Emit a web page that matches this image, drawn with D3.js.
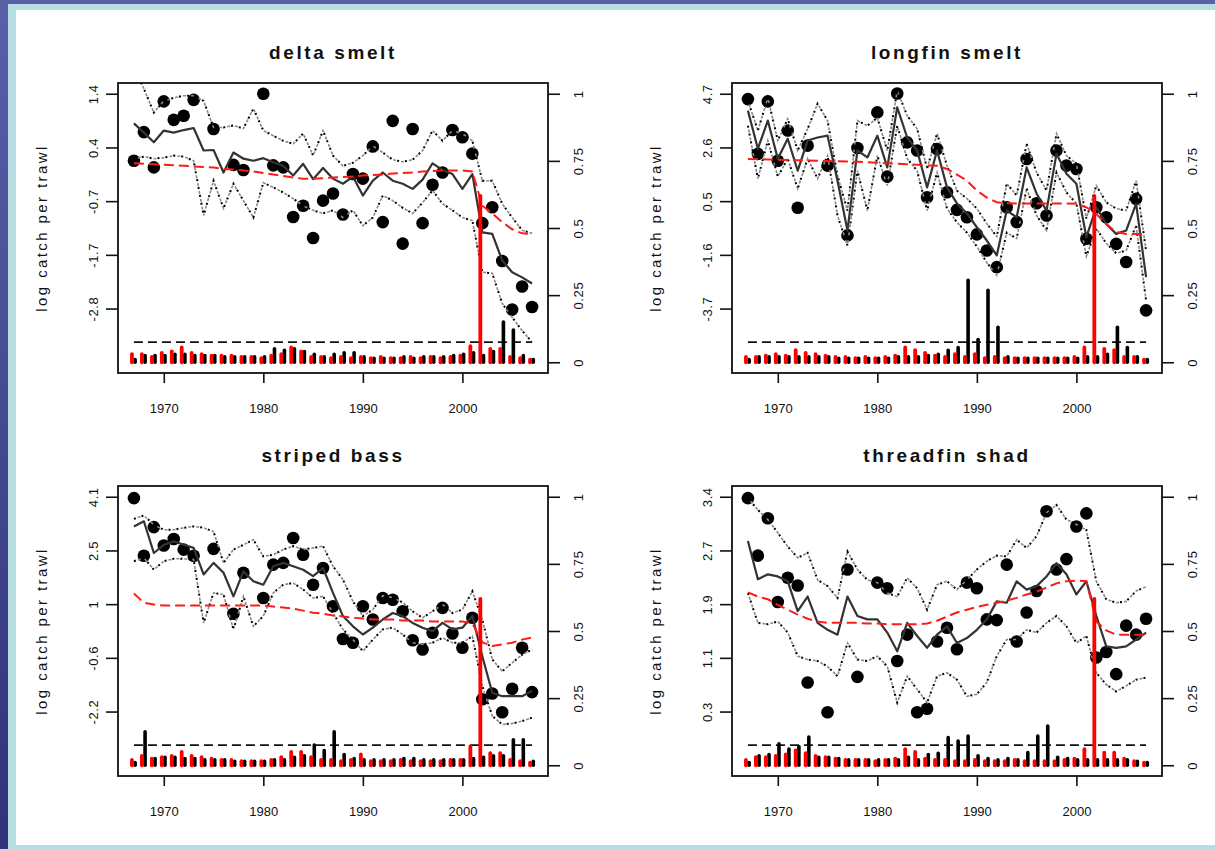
<!DOCTYPE html>
<html>
<head>
<meta charset="utf-8">
<script src="https://cdn.jsdelivr.net/npm/d3@7"></script>
<style>
  body { margin: 0; background: #4b4f9c; }
  svg text { font-family: "Liberation Sans", Arial, sans-serif; fill: #111; }
</style>
</head>
<body>
<svg id="chart" width="1215" height="849"></svg>
<script>
const years = d3.range(1967, 2008);
const threshold = 0.075;

// delta smelt
const deltaTicks = ["-2.8", "-1.7", "-0.7", "0.4", "1.4"];
const deltaObs = [0.09, 0.65, -0.04, 1.25, 0.89, 0.97, 1.28, null, 0.71, null,
  0.01, -0.09, null, 1.4, 0.0, -0.04, -1.01, -0.79, -1.42, -0.69,
  -0.55, -0.96, -0.17, -0.26, 0.37, -1.11, 0.87, -1.53, 0.71, -1.13,
  -0.38, -0.14, 0.69, 0.55, 0.23, -1.13, -0.82, -1.87, -2.82, -2.37, -2.77];
const deltaFit = [0.82, 0.64, 0.45, 0.68, 0.64, 0.69, 0.73, 0.29, 0.30, -0.14,
  0.25, 0.13, 0.09, 0.14, 0.06, -0.01, -0.20, 0.03, -0.27, -0.05,
  -0.26, -0.36, -0.22, -0.59, -0.30, -0.14, -0.30, -0.36, -0.46, -0.28,
  0.04, -0.09, -0.17, -0.46, -0.17, -1.31, -1.34, -1.86, -2.09, -2.19, -2.31];
const deltaHi = [1.9, 1.50, 1.03, 1.26, 1.32, 1.36, 1.36, 1.26, 0.74, 0.74,
  0.78, 0.72, 1.11, 0.68, 0.58, 0.48, 0.42, 0.62, 0.19, 0.68,
  0.19, -0.01, 0.05, 0.19, 0.38, 0.25, 0.11, 0.07, 0.11, 0.29,
  0.68, 0.48, 0.68, 0.62, 0.48, -0.30, -0.30, -0.75, -1.02, -1.27, -1.33];
const deltaLo = [0.13, 0.17, 0.13, 0.15, 0.19, 0.17, 0.09, -0.98, -0.30, -0.84,
  -0.36, -0.69, -1.02, -0.34, -0.43, -0.53, -0.65, -0.79, -0.88, -0.94,
  -0.88, -1.02, -0.88, -1.18, -1.02, -0.59, -0.69, -0.83, -0.94, -0.73,
  -0.49, -0.75, -0.88, -1.02, -1.08, -2.09, -2.11, -2.70, -2.97, -3.23, -3.46];
const deltaTrend = [0.04, 0.03, 0.02, 0.01, 0.0, -0.01, -0.02, -0.03, -0.04, -0.07,
  -0.08, -0.10, -0.12, -0.15, -0.18, -0.21, -0.24, -0.26, -0.26, -0.25,
  -0.24, -0.23, -0.22, -0.20, -0.19, -0.18, -0.16, -0.15, -0.14, -0.12,
  -0.11, -0.10, -0.10, -0.10, -0.12, -0.79, -0.94, -1.11, -1.25, -1.33, -1.34];
const deltaBlack = [0.01, 0.025, 0.025, 0.025, 0.03, 0.03, 0.025, 0.025, 0.025, 0.02,
  0.02, 0.02, 0.02, 0.02, 0.05, 0.045, 0.05, 0.04, 0.03, 0.02,
  0.03, 0.035, 0.035, 0.02, 0.015, 0.015, 0.015, 0.02, 0.015, 0.02,
  0.02, 0.02, 0.025, 0.03, 0.035, 0.025, 0.04, 0.15, 0.12, 0.025, 0.01];
const deltaRed = [0.03, 0.03, 0.02, 0.035, 0.04, 0.055, 0.035, 0.03, 0.025, 0.025,
  0.025, 0.02, 0.02, 0.015, 0.025, 0.03, 0.055, 0.04, 0.02, 0.02,
  0.015, 0.02, 0.015, 0.02, 0.015, 0.02, 0.015, 0.015, 0.02, 0.015,
  0.02, 0.015, 0.02, 0.025, 0.06, 0.62, 0.05, 0.05, 0.02, 0.015, 0.01];

// longfin smelt
const longfinTicks = ["-3.7", "-1.6", "0.5", "2.6", "4.7"];
const longfinObs = [4.49, 2.35, 4.40, 2.08, 3.26, 0.24, 2.67, null, 1.89, null,
  -0.84, 2.58, null, 3.97, 1.46, 4.71, 2.80, 2.48, 0.65, 2.54,
  0.85, 0.16, -0.13, -0.80, -1.43, -2.08, 0.26, -0.32, 2.15, 0.42,
  -0.06, 2.48, 1.89, 1.76, -0.97, 0.26, -0.13, -1.17, -1.88, 0.59, -3.77];
const longfinFit = [4.04, 2.55, 3.65, 2.16, 2.94, 1.69, 2.87, 2.99, 3.06, 1.30,
  -0.65, 2.48, 2.21, 3.06, 1.82, 4.17, 2.99, 2.48, 1.04, 2.48,
  1.04, 0.41, 0.02, -0.52, -1.04, -1.62, 0.13, -0.13, 1.82, 0.79,
  0.13, 2.35, 1.57, 1.18, -0.91, 0.26, -0.39, -0.78, -0.65, 0.40, -2.47];
const longfinHi = [4.43, 3.26, 4.54, 2.87, 3.72, 2.48, 3.33, 4.31, 3.65, 1.50,
  0.13, 3.65, 3.45, 3.76, 2.48, 4.82, 3.84, 3.33, 1.77, 3.14,
  1.89, 0.91, 0.60, 0.21, -0.38, -0.88, 1.19, 0.72, 2.75, 1.62,
  0.91, 3.14, 2.28, 1.97, -0.18, 1.11, 0.45, 0.21, 0.13, 1.30, -1.43];
const longfinLo = [3.45, 1.38, 2.87, 1.46, 2.16, 0.99, 2.16, 1.38, 2.28, -0.06,
  -1.23, 1.69, 0.13, 2.28, 1.11, 3.45, 2.16, 1.69, 0.13, 1.62,
  0.21, -0.33, -0.73, -1.28, -1.90, -2.40, -0.73, -0.96, 0.99, -0.06,
  -0.65, 1.62, 0.84, 0.41, -1.66, -0.57, -1.15, -1.54, -1.43, -0.45, -3.38];
const longfinTrend = [2.15, 2.14, 2.13, 2.12, 2.11, 2.10, 2.09, 2.08, 2.07, 2.06,
  2.05, 2.04, 2.02, 2.00, 1.98, 1.96, 1.94, 1.92, 1.90, 1.88,
  1.76, 1.54, 1.30, 0.91, 0.64, 0.46, 0.42, 0.41, 0.41, 0.41,
  0.41, 0.41, 0.41, 0.40, 0.26, 0.0, -0.39, -0.71, -0.78, -0.78, -0.78];
const longfinBlack = [0.01, 0.02, 0.02, 0.02, 0.02, 0.02, 0.02, 0.02, 0.02, 0.015,
  0.015, 0.015, 0.015, 0.015, 0.015, 0.02, 0.02, 0.02, 0.025, 0.03,
  0.045, 0.055, 0.305, 0.085, 0.268, 0.13, 0.02, 0.015, 0.015, 0.015,
  0.015, 0.015, 0.015, 0.015, 0.02, 0.02, 0.03, 0.13, 0.055, 0.02, 0.01];
const longfinRed = [0.02, 0.02, 0.025, 0.03, 0.025, 0.045, 0.035, 0.03, 0.025, 0.02,
  0.02, 0.015, 0.02, 0.015, 0.02, 0.025, 0.055, 0.045, 0.035, 0.025,
  0.02, 0.03, 0.02, 0.03, 0.015, 0.02, 0.015, 0.015, 0.015, 0.015,
  0.015, 0.015, 0.015, 0.02, 0.055, 0.62, 0.05, 0.045, 0.02, 0.02, 0.01];

// striped bass
const stripedTicks = ["-2.2", "-0.6", "1", "2.5", "4.1"];
const stripedObs = [4.06, 2.37, 3.21, 2.67, 2.86, 2.55, 2.37, null, 2.57, null,
  0.67, 1.87, null, 1.13, 2.11, 2.16, 2.89, 2.40, 1.52, 2.01,
  0.89, -0.07, -0.18, 0.89, 0.50, 1.13, 1.08, 0.74, -0.11, -0.38,
  0.11, 0.84, 0.09, -0.33, 0.55, -1.84, -1.67, -2.22, -1.53, -0.33, -1.63];
const stripedFit = [3.23, 3.38, 2.45, 2.69, 2.79, 2.69, 2.60, 1.82, 2.16, 1.87,
  1.18, 1.91, 1.62, 1.52, 2.06, 2.16, 2.06, 1.96, 1.77, 2.01,
  1.28, 0.60, 0.30, 0.06, 0.26, 0.50, 0.69, 0.60, 0.40, 0.26,
  0.16, 0.40, 0.21, 0.26, 0.60, -0.58, -1.65, -1.75, -1.75, -1.75, -1.60];
const stripedHi = [3.45, 3.55, 3.28, 3.13, 3.13, 3.19, 3.23, 3.19, 3.08, 2.16,
  2.55, 2.69, 2.84, 2.35, 2.40, 2.55, 2.65, 2.55, 2.60, 2.65,
  2.06, 1.67, 1.03, 0.60, 0.79, 1.20, 1.14, 1.00, 0.74, 0.55,
  0.74, 0.94, 0.69, 0.79, 1.33, 0.50, -0.67, -1.02, -0.77, -0.53, -0.38];
const stripedLo = [2.21, 2.31, 1.96, 2.21, 2.28, 2.28, 2.26, 0.40, 1.28, 1.23,
  0.21, 1.18, 0.30, 0.60, 1.28, 1.52, 1.57, 1.38, 1.13, 1.18,
  0.69, 0.21, -0.09, -0.43, -0.09, 0.21, 0.26, 0.06, -0.18, -0.23,
  -0.18, -0.04, -0.18, -0.18, 0.01, -1.45, -2.33, -2.58, -2.55, -2.48, -2.38];
const stripedTrend = [1.26, 0.99, 0.94, 0.91, 0.91, 0.91, 0.91, 0.91, 0.91, 0.91,
  0.91, 0.91, 0.91, 0.91, 0.88, 0.85, 0.82, 0.76, 0.70, 0.67,
  0.62, 0.59, 0.55, 0.53, 0.50, 0.50, 0.50, 0.47, 0.47, 0.47,
  0.44, 0.44, 0.44, 0.44, 0.38, -0.17, -0.28, -0.23, -0.18, -0.09, -0.03];
const stripedBlack = [0.01, 0.125, 0.025, 0.03, 0.03, 0.025, 0.025, 0.02, 0.02, 0.02,
  0.015, 0.015, 0.015, 0.015, 0.02, 0.02, 0.03, 0.035, 0.075, 0.055,
  0.125, 0.04, 0.025, 0.02, 0.02, 0.02, 0.02, 0.025, 0.025, 0.02,
  0.02, 0.02, 0.02, 0.02, 0.025, 0.03, 0.035, 0.035, 0.095, 0.095, 0.015];
const stripedRed = [0.02, 0.035, 0.025, 0.03, 0.035, 0.05, 0.035, 0.03, 0.025, 0.02,
  0.02, 0.015, 0.015, 0.015, 0.02, 0.03, 0.05, 0.05, 0.03, 0.02,
  0.02, 0.015, 0.02, 0.04, 0.015, 0.015, 0.015, 0.02, 0.015, 0.015,
  0.015, 0.015, 0.02, 0.02, 0.07, 0.62, 0.045, 0.045, 0.02, 0.015, 0.01];

// threadfin shad
const threadfinTicks = ["0.3", "1.1", "1.9", "2.7", "3.4"];
const threadfinObs = [3.38, 2.55, 3.09, 1.88, 2.23, 2.12, 0.72, null, 0.29, null,
  2.35, 0.80, null, 2.16, 2.08, 1.03, 1.41, 0.29, 0.34, 1.31,
  1.51, 1.20, 2.16, 2.08, 1.63, 1.62, 2.42, 1.31, 1.73, 2.04,
  3.19, 2.35, 2.50, 2.97, 3.16, 1.08, 1.16, 0.84, 1.54, 1.41, 1.64];
const threadfinFit = [2.76, 2.21, 2.28, 2.25, 2.18, 1.75, 1.96, 1.58, 1.48, 1.41,
  1.96, 1.68, 1.63, 1.63, 1.44, 1.17, 1.58, 1.39, 1.22, 1.41,
  1.53, 1.29, 1.36, 1.48, 1.63, 1.89, 1.87, 2.18, 2.06, 2.11,
  2.25, 2.44, 2.28, 1.99, 2.18, 1.68, 1.24, 1.22, 1.24, 1.34, 1.44];
const threadfinHi = [3.38, 3.21, 3.07, 2.88, 2.68, 2.52, 2.59, 2.20, 2.11, 1.94,
  2.61, 2.35, 2.20, 2.16, 2.01, 1.96, 2.23, 2.08, 1.77, 2.13,
  2.18, 2.06, 2.20, 2.35, 2.47, 2.55, 2.54, 2.78, 2.66, 2.83,
  3.17, 3.28, 3.07, 3.00, 2.92, 2.18, 1.92, 1.87, 1.89, 2.04, 2.10];
const threadfinLo = [2.01, 1.58, 1.56, 1.60, 1.44, 1.10, 1.05, 1.03, 0.95, 0.81,
  1.29, 1.05, 1.03, 1.10, 0.95, 0.43, 0.81, 0.62, 0.43, 0.81,
  0.86, 0.76, 0.52, 0.55, 0.72, 1.10, 1.34, 1.34, 1.48, 1.44,
  1.58, 1.68, 1.53, 1.29, 1.39, 0.86, 0.69, 0.59, 0.67, 0.76, 0.79];
const threadfinTrend = [2.02, 1.96, 1.92, 1.84, 1.77, 1.70, 1.64, 1.60, 1.58, 1.58,
  1.58, 1.58, 1.57, 1.57, 1.56, 1.56, 1.56, 1.56, 1.57, 1.61,
  1.67, 1.73, 1.77, 1.81, 1.84, 1.87, 1.90, 1.94, 1.99, 2.03,
  2.09, 2.15, 2.18, 2.19, 2.18, 1.60, 1.47, 1.41, 1.41, 1.41, 1.41];
const threadfinBlack = [0.01, 0.035, 0.04, 0.08, 0.06, 0.07, 0.105, 0.03, 0.03, 0.025,
  0.02, 0.02, 0.02, 0.02, 0.02, 0.02, 0.03, 0.02, 0.04, 0.045,
  0.103, 0.09, 0.109, 0.035, 0.025, 0.02, 0.025, 0.02, 0.047, 0.109,
  0.146, 0.03, 0.025, 0.02, 0.02, 0.02, 0.02, 0.02, 0.02, 0.015, 0.01];
const threadfinRed = [0.02, 0.03, 0.03, 0.035, 0.04, 0.055, 0.045, 0.035, 0.03, 0.025,
  0.02, 0.02, 0.02, 0.015, 0.02, 0.025, 0.06, 0.05, 0.025, 0.02,
  0.02, 0.015, 0.015, 0.02, 0.015, 0.015, 0.015, 0.02, 0.015, 0.015,
  0.015, 0.015, 0.02, 0.025, 0.06, 0.62, 0.047, 0.047, 0.025, 0.015, 0.01];

const xTicks = [1970, 1980, 1990, 2000];
const probTicks = [0, 0.25, 0.5, 0.75, 1];
const probLabels = ["0", "0.25", "0.5", "0.75", "1"];

const panels = [
  { title: "delta smelt", ticks: deltaTicks, obs: deltaObs, fit: deltaFit, hi: deltaHi, lo: deltaLo,
    trend: deltaTrend, black: deltaBlack, red: deltaRed, left: 118, top: 83 },
  { title: "longfin smelt", ticks: longfinTicks, obs: longfinObs, fit: longfinFit, hi: longfinHi, lo: longfinLo,
    trend: longfinTrend, black: longfinBlack, red: longfinRed, left: 732, top: 83 },
  { title: "striped bass", ticks: stripedTicks, obs: stripedObs, fit: stripedFit, hi: stripedHi, lo: stripedLo,
    trend: stripedTrend, black: stripedBlack, red: stripedRed, left: 118, top: 486 },
  { title: "threadfin shad", ticks: threadfinTicks, obs: threadfinObs, fit: threadfinFit, hi: threadfinHi, lo: threadfinLo,
    trend: threadfinTrend, black: threadfinBlack, red: threadfinRed, left: 732, top: 486 }
];
const W = 430, H = 290;

const svg = d3.select('#chart');
const defs = svg.append('defs');

// slide background: blue frame, cyan border, white page
const grad = defs.append('linearGradient').attr('id', 'bg').attr('x1', 0).attr('y1', 0).attr('x2', 0).attr('y2', 1);
grad.append('stop').attr('offset', 0).attr('stop-color', '#5a60a8');
grad.append('stop').attr('offset', 1).attr('stop-color', '#2f3478');
svg.append('rect').attr('width', 1215).attr('height', 849).attr('fill', 'url(#bg)');
svg.append('rect').attr('x', 8).attr('y', 4).attr('width', 1207).attr('height', 845).attr('fill', '#b6dde2');
svg.append('rect').attr('x', 16).attr('y', 10).attr('width', 1199).attr('height', 835).attr('fill', '#ffffff');

panels.forEach((p, idx) => {
    const right = p.left + W, bottom = p.top + H;
    const x = d3.scaleLinear().domain([1965.4, 2008.6]).range([p.left, right]);
    const prob = d3.scaleLinear().domain([-0.04, 1.04]).range([bottom, p.top]);
    const lo = +p.ticks[0], hi = +p.ticks[4];
    const y = d3.scaleLinear().domain([lo, hi]).range([prob(0.2), prob(1)]);
    const tickVals = d3.range(5).map(i => lo + i * (hi - lo) / 4);

    const g = svg.append('g');
    defs.append('clipPath').attr('id', 'clip' + idx)
        .append('rect').attr('x', p.left).attr('y', p.top).attr('width', W).attr('height', H);
    const plot = g.append('g').attr('clip-path', `url(#clip${idx})`);

    // observed catches
    plot.selectAll('circle')
        .data(years.map((yr, i) => ({ yr, v: p.obs[i] })).filter(d => d.v !== null))
        .join('circle')
        .attr('cx', d => x(d.yr))
        .attr('cy', d => y(d.v))
        .attr('r', 6.3)
        .attr('fill', '#000');

    const line = d3.line().x((d, i) => x(years[i])).y(d => y(d));

    // credible interval
    [p.hi, p.lo].forEach(arr => {
        plot.append('path').attr('d', line(arr))
            .attr('fill', 'none').attr('stroke', '#8a8a8a').attr('stroke-width', 1.6)
            .attr('stroke-dasharray', '3,5').attr('stroke-dashoffset', 4);
        plot.append('path').attr('d', line(arr))
            .attr('fill', 'none').attr('stroke', '#000').attr('stroke-width', 2)
            .attr('stroke-dasharray', '2,6');
    });

    // fitted level
    plot.append('path').attr('d', line(p.fit))
        .attr('fill', 'none').attr('stroke', '#333').attr('stroke-width', 2.2)
        .attr('stroke-linejoin', 'round');

    // long-term trend
    plot.append('path').attr('d', line(p.trend))
        .attr('fill', 'none').attr('stroke', '#ff1a1a').attr('stroke-width', 2)
        .attr('stroke-dasharray', '10,5');

    // change point probabilities
    plot.append('line')
        .attr('x1', x(1967)).attr('x2', x(2007))
        .attr('y1', prob(threshold)).attr('y2', prob(threshold))
        .attr('stroke', '#111').attr('stroke-width', 1.6).attr('stroke-dasharray', '9,5');

    plot.append('g').selectAll('line')
        .data(years.map((yr, i) => ({ yr, v: p.black[i] })))
        .join('line')
        .attr('x1', d => x(d.yr + 0.12)).attr('x2', d => x(d.yr + 0.12))
        .attr('y1', prob(0)).attr('y2', d => prob(d.v))
        .attr('stroke', '#000').attr('stroke-width', 3.6).attr('stroke-linecap', 'round');

    plot.append('g').selectAll('line')
        .data(years.map((yr, i) => ({ yr, v: p.red[i] })))
        .join('line')
        .attr('x1', d => x(d.yr - 0.2)).attr('x2', d => x(d.yr - 0.2))
        .attr('y1', prob(0)).attr('y2', d => prob(d.v))
        .attr('stroke', '#ff0000').attr('stroke-width', 3.8).attr('stroke-linecap', 'round');

    // frame
    g.append('rect').attr('x', p.left).attr('y', p.top).attr('width', W).attr('height', H)
        .attr('fill', 'none').attr('stroke', '#111').attr('stroke-width', 1.8);

    // axes
    const axisStyle = sel => {
        sel.select('.domain').remove();
        sel.selectAll('line').attr('stroke', '#111').attr('stroke-width', 1.6);
        sel.selectAll('text').attr('font-size', 13).attr('fill', '#111');
    };

    g.append('g').attr('transform', `translate(0,${bottom})`)
        .call(d3.axisBottom(x).tickValues(xTicks).tickFormat(d3.format('d')).tickSize(10).tickPadding(21))
        .call(axisStyle);

    const yAxis = g.append('g').attr('transform', `translate(${p.left},0)`)
        .call(d3.axisLeft(y).tickValues(tickVals).tickFormat((d, i) => p.ticks[i]).tickSize(12))
        .call(axisStyle);
    yAxis.selectAll('text')
        .attr('transform', 'translate(-25,0) rotate(-90)')
        .attr('x', 0).attr('y', 0).attr('dy', '0.35em').attr('text-anchor', 'middle')
        .attr('letter-spacing', 0.6);

    const pAxis = g.append('g').attr('transform', `translate(${right},0)`)
        .call(d3.axisRight(prob).tickValues(probTicks).tickFormat((d, i) => probLabels[i]).tickSize(12))
        .call(axisStyle);
    pAxis.selectAll('text')
        .attr('transform', 'translate(30,0) rotate(-90)')
        .attr('x', 0).attr('y', 0).attr('dy', '0.35em').attr('text-anchor', 'middle')
        .attr('letter-spacing', 0.6);

    // labels
    g.append('text')
        .attr('x', (p.left + right) / 2).attr('y', p.top - 31)
        .attr('text-anchor', 'middle').attr('dy', '0.35em')
        .attr('font-size', 19).attr('font-weight', 'bold').attr('letter-spacing', 2.6)
        .text(p.title);

    g.append('text')
        .attr('transform', `translate(${p.left - 76},${(p.top + bottom) / 2}) rotate(-90)`)
        .attr('text-anchor', 'middle').attr('dy', '0.35em')
        .attr('font-size', 15).attr('letter-spacing', 2.4)
        .text('log catch per trawl');
});
</script>
</body>
</html>
